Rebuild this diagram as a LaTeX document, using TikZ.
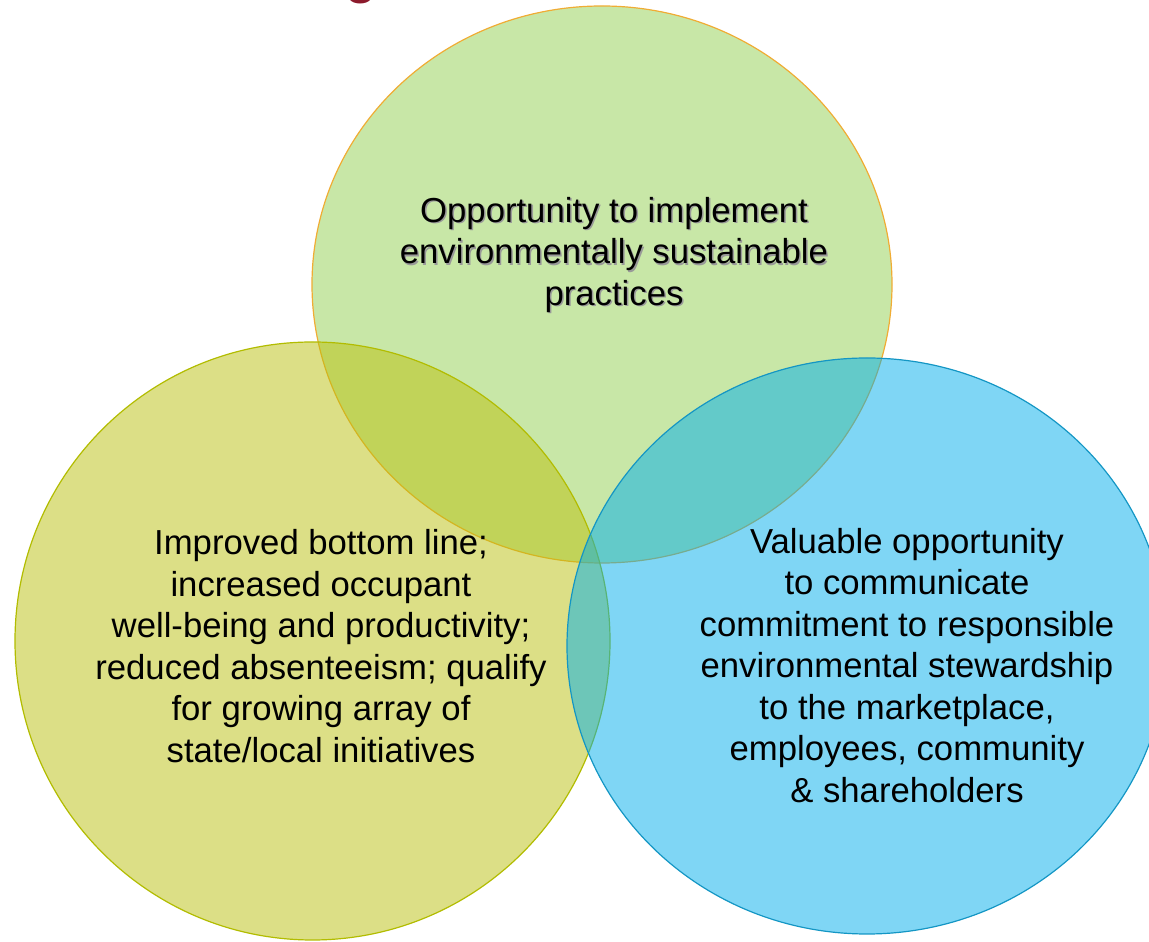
\documentclass[tikz,border=0pt]{standalone}
\usepackage{fontspec}
\setmainfont{Liberation Sans}
\definecolor{greenfill}{RGB}{146,208,80}
\definecolor{greenline}{RGB}{240,172,52}
\definecolor{olivefill}{RGB}{185,191,13}
\definecolor{oliveline}{RGB}{178,188,0}
\definecolor{bluefill}{RGB}{0,173,235}
\definecolor{blueline}{RGB}{20,150,196}
\definecolor{titlered}{RGB}{140,26,44}
\tikzset{
  venn/.style={fill opacity=0.5, line width=1.2pt},
  blurb/.style={align=center, font=\fontsize{34.7}{41.5}\selectfont, inner sep=0pt},
}
\begin{document}
\begin{tikzpicture}[x=1pt,y=1pt]
        \useasboundingbox (0,0) rectangle (1149,942);
        % cut-off heading above the diagram
        \node [anchor=base, text=titlered, font=\fontsize{60}{60}\selectfont] (head) at (361,950) {g};
        % the three overlapping sets
        \draw [venn, fill=greenfill, draw=greenline] (602,657.5) ellipse [x radius=290pt, y radius=278.5pt];
        \draw [venn, fill=olivefill, draw=oliveline] (312.5,301) ellipse [x radius=297.5pt, y radius=299pt];
        \draw [venn, fill=bluefill, draw=blueline] (867,296) ellipse [x radius=300pt, y radius=288pt];
        % labels
        \node [blurb, text=black!40] (greenshadow) at (615.5,685.5) {Opportunity to implement\\environmentally sustainable\\practices};
        \node [blurb] (greentext) at (614,687) {Opportunity to implement\\environmentally sustainable\\practices};
        \node [blurb] (olivetext) at (321,296) {Improved bottom line;\\increased occupant\\well-being and productivity;\\reduced absenteeism; qualify\\for growing array of\\state/local initiatives};
        \node [blurb] (bluetext) at (907,276.5) {Valuable opportunity\\to communicate\\commitment to responsible\\environmental stewardship\\to the marketplace,\\employees, community\\\& shareholders};
    \end{tikzpicture}
\end{document}
